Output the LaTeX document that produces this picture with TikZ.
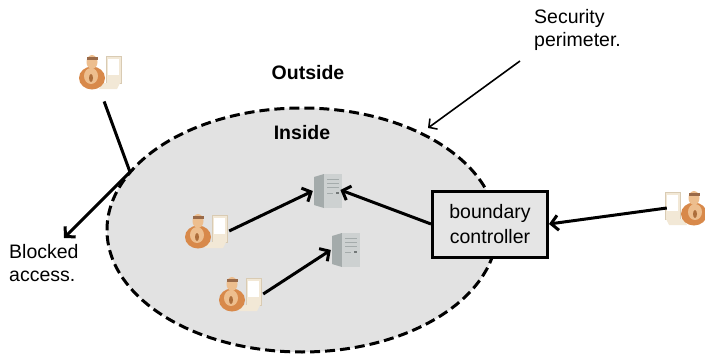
\documentclass[tikz,border=0pt]{standalone}
\usepackage{fontspec}
\setmainfont{Liberation Sans}
\usetikzlibrary{arrows.meta,shapes.geometric}

\definecolor{zonefill}{HTML}{E2E2E2}
\definecolor{boxfill}{HTML}{E5E5E5}
\definecolor{skin}{HTML}{EDBE8E}
\definecolor{skinshade}{HTML}{D8894A}
\definecolor{hair}{HTML}{9A6A48}
\definecolor{monbody}{HTML}{F2E8D6}
\definecolor{monedge}{HTML}{D9CBB3}
\definecolor{srvside}{HTML}{A4ABAB}
\definecolor{srvfront}{HTML}{CDD1D1}

\tikzset{
  lbl/.style={font=\fontsize{19.5}{23}\selectfont, inner sep=0pt, align=left},
  bold lbl/.style={lbl, font=\fontsize{19.5}{23}\selectfont\bfseries},
  link/.style={line width=3pt, -{Straight Barb[length=7pt,width=15pt,line width=3pt]}},
  thin link/.style={line width=1.6pt, -{Straight Barb[length=6pt,width=13pt,line width=1.6pt]}},
  iconbox/.style={minimum width=#1, minimum height=36pt, inner sep=0pt},
  % desk worker with a monitor to his right
  worker/.pic={
    \fill[monbody] (6,-16) rectangle (21,11);
    \draw[monedge, line width=0.6pt] (6,-16) rectangle (21,11);
    \fill[white] (8,-13) rectangle (19,3);
    \fill[monbody] (2,11) -- (20,11) -- (17,17) -- (-1,17) -- cycle;
    \fill[skinshade] (-8,6) ellipse (13 and 11.5);
    \fill[skin] (-9,4) ellipse (7 and 8);
    \fill[skinshade!80!black] (-9,6) ellipse (2 and 4);
    \fill[skin] (-8,-10) ellipse (5.5 and 7);
    \fill[hair] (-13.5,-15) rectangle (-2.5,-12);
  },
  % tower server
  server/.pic={
    \fill[srvside] (-14,-14) -- (-4,-17) -- (-4,17) -- (-14,14) -- cycle;
    \fill[srvfront] (-4,-17) rectangle (14,17);
    \draw[srvside, line width=1pt] (-1,-12) -- (11,-12) (-1,-8) -- (11,-8)
      (-1,-4) -- (11,-4) (-1,2) -- (5,2);
    \fill[srvside!70!black] (8,1) rectangle (11,3);
  }
}

\begin{document}
\begin{tikzpicture}[x=1pt, y=-1pt]
  \useasboundingbox (0,0) rectangle (705,356);

  % security perimeter
  \node[ellipse, draw, fill=zonefill, line width=3pt, dash pattern=on 10pt off 5pt,
        minimum width=390pt, minimum height=244pt] (perim) at (302,230) {};

  % zone labels
  \node[bold lbl] (outside) at (308,73) {Outside};
  \node[bold lbl] (inside) at (302,133) {Inside};

  % servers
  \node[minimum width=30pt, minimum height=33pt, inner sep=0pt] (srv1) at (328,191) {};
  \pic at (srv1) {server};
  \node[minimum width=30pt, minimum height=33pt, inner sep=0pt] (srv2) at (346,250) {};
  \pic at (srv2) {server};

  % workers
  \node[iconbox=46pt] (wk1) at (206,231) {};
  \pic at (wk1) {worker};
  \node[iconbox=46pt] (wk2) at (240,294) {};
  \pic at (wk2) {worker};
  \node[iconbox=40pt] (wkout) at (100,72) {};
  \pic at (wkout) {worker};
  \node[iconbox=38pt] (wkext) at (686,208) {};
  \pic[xscale=-1] at (wkext) {worker};

  % boundary controller
  \node[lbl, draw, fill=boxfill, line width=3pt, align=center,
        minimum width=115pt, minimum height=66pt,
        font=\fontsize{19.5}{25}\selectfont] (ctrl) at (490,224) {boundary\\controller};

  % captions
  \node[lbl, anchor=north west] (seclbl) at (534,9) {Security\\perimeter.};
  \node[lbl, anchor=north west] (blklbl) at (9,244) {Blocked\\access.};

  \coordinate (secfrom) at (520,61);
  \coordinate (secto) at (428,128);
  \coordinate (hit) at (130,172);
  \coordinate (blkto) at (64,238);

  % connectors
  \draw[link] (wk1.east) -- (srv1.west);
  \draw[link] (wk2.east) -- (srv2.west);
  \draw[link, shorten >=-3pt] (ctrl.west) -- (srv1.east);
  \draw[link] (wkext.west) -- (ctrl.east);
  \draw[thin link] (secfrom) -- (secto);
  \draw[line width=3pt, shorten <=12pt] (wkout.south) -- (hit);
  \draw[link] (hit) -- (blkto);
\end{tikzpicture}
\end{document}
